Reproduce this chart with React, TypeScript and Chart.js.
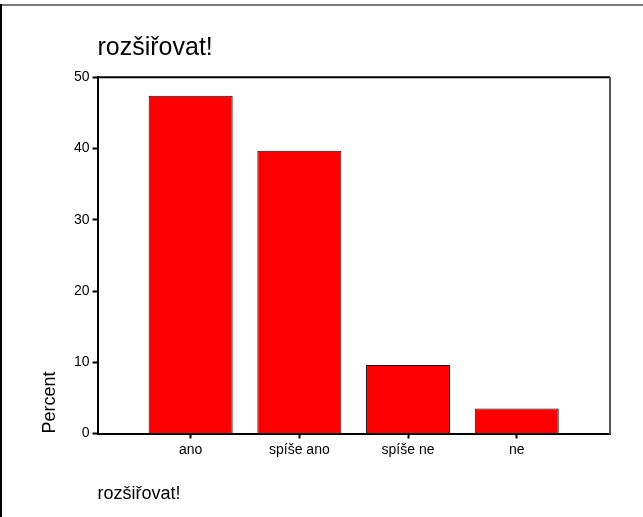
import React, { useEffect, useRef } from "react";
import { Chart, registerables } from "chart.js";

Chart.register(...registerables);

const titleText = "rozšiřovat!";
const xAxisTitle = "rozšiřovat!";
const yAxisTitle = "Percent";
const categories = ["ano", "spíše ano", "spíše ne", "ne"];
const percentValues = [47.4, 39.7, 9.6, 3.5];
const yTicks = [0, 10, 20, 30, 40, 50];

const FONT = "'Liberation Sans', Arial, sans-serif";

const framePlugin = {
  id: "spssFrame",
  afterDraw(chart: any) {
    const { ctx, chartArea } = chart;
    const w = chart.width;
    const h = chart.height;
    ctx.save();
    ctx.strokeStyle = "#7a7a7a";
    ctx.lineWidth = 2;
    ctx.beginPath();
    ctx.moveTo(0, 5);
    ctx.lineTo(w, 5);
    ctx.stroke();
    ctx.strokeStyle = "#000";
    ctx.beginPath();
    ctx.moveTo(1, 4);
    ctx.lineTo(1, h);
    ctx.stroke();
    ctx.strokeStyle = "#000";
    ctx.beginPath();
    ctx.moveTo(chartArea.left, chartArea.top);
    ctx.lineTo(chartArea.right, chartArea.top);
    ctx.stroke();
    ctx.strokeStyle = "#555";
    ctx.beginPath();
    ctx.moveTo(chartArea.right, chartArea.top);
    ctx.lineTo(chartArea.right, chartArea.bottom + 1);
    ctx.stroke();
    ctx.restore();
  },
};

export default function App() {
  const ref = useRef<HTMLCanvasElement | null>(null);

  useEffect(() => {
    if (!ref.current) return;
    const chart = new Chart(ref.current, {
      type: "bar",
      data: {
        datasets: [
          {
            data: percentValues.map((v, i) => ({ x: i, y: v })),
            backgroundColor: "#ff0000",
            borderColor: "#111",
            borderWidth: 1,
            barPercentage: 0.773,
            categoryPercentage: 1,
          },
        ],
      },
      options: {
        responsive: false,
        animation: false,
        events: [],
        layout: { padding: { left: 39, top: 33, right: 33, bottom: 12.4 } },
        plugins: {
          legend: { display: false },
          tooltip: { enabled: false },
          title: {
            display: true,
            text: titleText,
            align: "start",
            fullSize: false,
            color: "#000",
            font: { family: FONT, size: 25, weight: "normal" },
            padding: { top: 0, bottom: 14.3 },
          },
        },
        scales: {
          x: {
            type: "linear",
            min: -0.857,
            max: 3.858,
            offset: false,
            afterBuildTicks: (scale: any) => {
              scale.ticks = categories.map((_, i) => ({ value: i }));
            },
            afterFit: (scale: any) => {
              scale.height = 71.1;
            },
            ticks: {
              autoSkip: false,
              maxRotation: 0,
              color: "#000",
              padding: 3,
              font: { family: FONT, size: 14 },
              callback: (v: any) => categories[v] ?? "",
            },
            grid: {
              offset: false,
              drawOnChartArea: false,
              drawTicks: true,
              tickLength: 5,
              tickWidth: 2,
              tickColor: "#000",
            },
            border: { display: true, color: "#000", width: 2 },
            title: {
              display: true,
              text: xAxisTitle,
              align: "start",
              color: "#000",
              font: { family: FONT, size: 18 },
              padding: { top: 0, bottom: 0 },
            },
          },
          y: {
            type: "linear",
            min: yTicks[0],
            max: yTicks[yTicks.length - 1],
            afterBuildTicks: (scale: any) => {
              scale.ticks = yTicks.map((v) => ({ value: v }));
            },
            afterFit: (scale: any) => {
              scale.width = 58.5;
            },
            ticks: {
              color: "#000",
              padding: 3,
              font: { family: FONT, size: 14 },
            },
            grid: {
              drawOnChartArea: false,
              drawTicks: true,
              tickLength: 5,
              tickWidth: 2,
              tickColor: "#000",
            },
            border: { display: true, color: "#000", width: 2 },
            title: {
              display: true,
              text: yAxisTitle,
              align: "start",
              color: "#000",
              font: { family: FONT, size: 18 },
              padding: { top: 0, bottom: 0 },
            },
          },
        },
      },
      plugins: [framePlugin],
    } as any);
    return () => chart.destroy();
  }, []);

  return (
    <div style={{ position: "absolute", left: 0, top: 0, width: 643, height: 517, background: "#fff" }}>
      <canvas ref={ref} width={643} height={517} style={{ display: "block" }} />
    </div>
  );
}
